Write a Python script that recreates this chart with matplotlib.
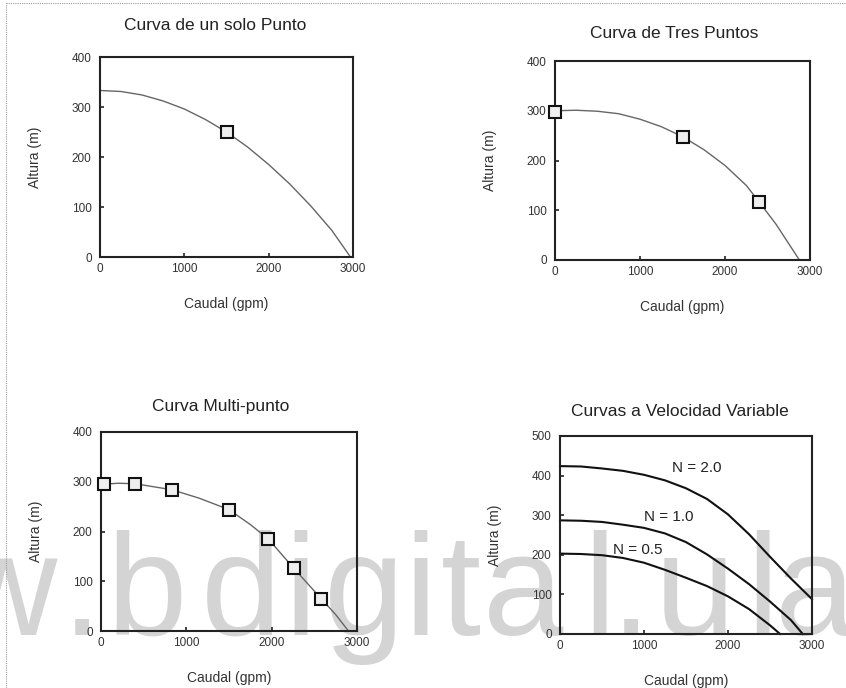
import matplotlib
matplotlib.use("Agg")
import matplotlib.pyplot as plt
from matplotlib.lines import Line2D

plt.rcParams['font.family'] = ['Liberation Sans', 'DejaVu Sans']

# ---------------- data ----------------
titles = ["Curva de un solo Punto", "Curva de Tres Puntos",
          "Curva Multi-punto", "Curvas a Velocidad Variable"]
xlabel = "Caudal (gpm)"
ylabel = "Altura (m)"
xticks = [0, 1000, 2000, 3000]

# 1) single point curve
c1_x = [0, 250, 500, 750, 1000, 1250, 1500, 1750, 2000, 2250, 2500, 2750, 2970]
c1_y = [333, 331, 324, 312, 296, 275, 250, 220, 185, 146, 102, 53, 0]
p1_x = [1500]
p1_y = [250]

# 2) three point curve
c2_x = [0, 250, 500, 750, 1000, 1250, 1500, 1750, 2000, 2250, 2400, 2600, 2875]
c2_y = [300, 301, 299, 294, 283, 268, 248, 222, 190, 150, 117, 72, 0]
p2_x = [0, 1500, 2400]
p2_y = [297, 247, 117]

# 3) multi-point curve
c3_x = [40, 200, 400, 830, 1150, 1500, 1750, 1960, 2260, 2580, 2750, 2900]
c3_y = [295, 297, 296, 284, 267, 244, 214, 185, 126, 65, 33, 0]
p3_x = [40, 400, 830, 1500, 1960, 2260, 2580]
p3_y = [295, 296, 284, 244, 185, 126, 65]

# 4) variable speed curves
n20_x = [0, 250, 500, 750, 1000, 1250, 1500, 1750, 2000, 2250, 2500, 2750, 3000]
n20_y = [424, 423, 418, 412, 402, 388, 368, 341, 302, 252, 195, 140, 88]
n10_x = [0, 250, 500, 750, 1000, 1250, 1500, 1750, 2000, 2250, 2500, 2750, 2890]
n10_y = [287, 286, 283, 276, 268, 254, 232, 201, 165, 126, 82, 35, 0]
n05_x = [0, 250, 500, 750, 1000, 1250, 1500, 1750, 2000, 2250, 2500, 2620]
n05_y = [203, 202, 199, 192, 180, 162, 142, 121, 95, 63, 22, 0]
n_labels = ["N = 2.0", "N = 1.0", "N = 0.5"]
n_label_x = [1625, 1300, 930]
n_label_y = [419, 296, 212]

watermark_chars = list("w.bdigital.ula")
watermark_cx = [4, 82, 147, 241, 300, 364, 420, 461, 523, 599, 631, 695, 762, 815]

# ---------------- figure ----------------
W, H = 846, 688
fig = plt.figure(figsize=(W / 100, H / 100), dpi=100)
fig.patch.set_facecolor('white')

# watermark (behind everything)
for ch, cx in zip(watermark_chars, watermark_cx):
    fig.text(cx / W, 1 - 635 / H, ch, fontsize=104, color='#d4d4d4',
             ha='center', va='baseline', zorder=-5)

# scan border lines
fig.add_artist(Line2D([6 / W, 1], [1 - 3 / H, 1 - 3 / H], color='#999999',
                      lw=0.8, ls=(0, (1, 1)), transform=fig.transFigure))
fig.add_artist(Line2D([6 / W, 6 / W], [0, 1 - 3 / H], color='#999999',
                      lw=0.8, ls=(0, (1, 1)), transform=fig.transFigure))


def make_axes(l, t, r, b):
    ax = fig.add_axes([l / W, (H - b) / H, (r - l) / W, (b - t) / H])
    ax.set_facecolor('none')
    for s in ax.spines.values():
        s.set_linewidth(1.5)
        s.set_color('#222222')
    ax.tick_params(direction='in', length=3, width=1.2, labelsize=8.5,
                   colors='#222222', labelcolor='#333333')
    ax.tick_params(axis='y', pad=6)
    ax.tick_params(axis='x', pad=4)
    ax.set_xlim(0, 3000)
    ax.set_xticks(xticks)
    ax.set_xlabel(xlabel, fontsize=10, color='#333333')
    ax.set_ylabel(ylabel, fontsize=10, color='#333333')
    ax.xaxis.set_label_coords(0.5, -40 / (b - t))
    ax.yaxis.set_label_coords(-58 / (r - l), 0.5)
    return ax


boxes = [(100, 57, 353, 257), (555, 61, 810, 260),
         (101, 432, 357, 631), (560, 436, 812, 634)]
title_pos = [(215, 25), (674, 33), (221, 406), (680, 412)]

axes = [make_axes(*bx) for bx in boxes]
for (tx, ty), t in zip(title_pos, titles):
    fig.text(tx / W, 1 - ty / H, t, fontsize=12.5, color='#222222',
             ha='center', va='center')

mk = dict(marker='s', markersize=8.5, markerfacecolor='#eeeeee',
          markeredgecolor='#111111', markeredgewidth=1.5, linestyle='none',
          clip_on=False, zorder=5)
line_kw = dict(color='#666666', lw=1.0, clip_on=False)

ax = axes[0]
ax.plot(c1_x, c1_y, **line_kw)
ax.plot(p1_x, p1_y, **mk)
ax.set_ylim(0, 400)
ax.set_yticks([0, 100, 200, 300, 400])

ax = axes[1]
ax.plot(c2_x, c2_y, **line_kw)
ax.plot(p2_x, p2_y, **mk)
ax.set_ylim(0, 400)
ax.set_yticks([0, 100, 200, 300, 400])

ax = axes[2]
ax.plot(c3_x, c3_y, **line_kw)
ax.plot(p3_x, p3_y, **mk)
ax.set_ylim(0, 400)
ax.set_yticks([0, 100, 200, 300, 400])

ax = axes[3]
for xs, ys in [(n20_x, n20_y), (n10_x, n10_y), (n05_x, n05_y)]:
    ax.plot(xs, ys, color='#111111', lw=1.5, clip_on=False)
for lab, lx, ly in zip(n_labels, n_label_x, n_label_y):
    ax.text(lx, ly, lab, fontsize=11, color='#222222', ha='center', va='center')
ax.set_ylim(0, 500)
ax.set_yticks([0, 100, 200, 300, 400, 500])

fig.savefig("out.png", dpi=100)
